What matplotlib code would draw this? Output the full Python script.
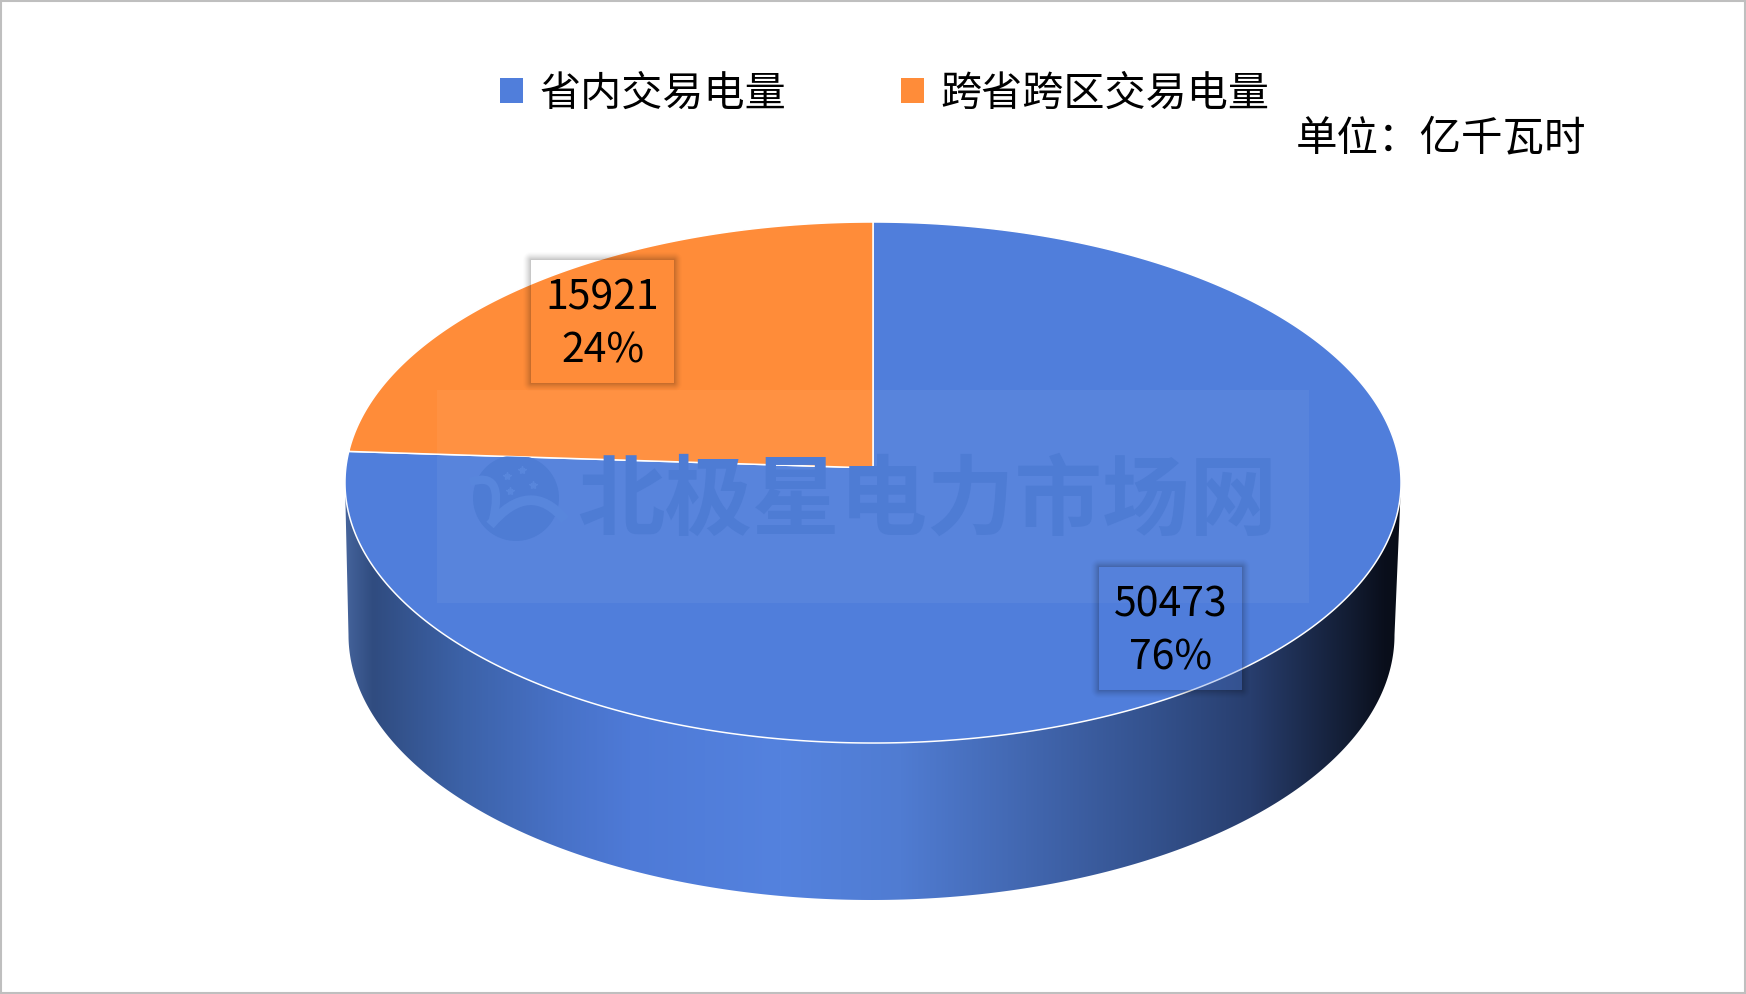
import matplotlib
matplotlib.use("Agg")
import matplotlib.pyplot as plt
import numpy as np
from matplotlib.patches import Patch, Polygon, Rectangle, Circle, PathPatch
from matplotlib.path import Path

plt.rcParams['font.family'] = ['Noto Sans CJK SC', 'DejaVu Sans']

categories = ["省内交易电量", "跨省跨区交易电量"]
values = [50473, 15921]
unit_label = "单位：亿千瓦时"
watermark = "北极星电力市场网"

W, H = 1746, 994
BLUE = '#507EDB'
ORANGE = '#FF8C39'
colors = [BLUE, ORANGE]

# label boxes, x0 x1 y0 y1 in pixels
boxes = [(1099, 1242, 567, 690), (531, 674, 260, 383)]
box_fills = [(0.31, 0.49, 0.86, 0.3), 'none']

# shape of the pie in pixels
CX, APEX_Y = 873, 468
A, B, K = 527.2, 259.7, 0.0557
BOT_CX, BOT_CY, BOT_A, BOT_B = 871.5, 635, 523, 265

fig = plt.figure(figsize=(W / 100, H / 100), dpi=100)
ax = fig.add_axes([0, 0, 1, 1])


# angle in degrees clockwise from 12 o'clock, with the camera perspective
def disk_xy(deg):
    t = np.radians(deg)
    u, v = np.sin(t), np.cos(t)
    d = 1 + K * v
    return CX + A * u / d, APEX_Y - B * v / d


# side of the cylinder, gradient clipped to the outline
grad_x = [345, 350, 373, 463, 563, 630, 780, 900, 1150, 1250, 1350, 1383, 1402]
grad_r = [70, 65, 48, 60, 72, 78, 84, 80, 52, 40, 18, 10, 8]
grad_g = [100, 95, 76, 98, 114, 122, 130, 124, 82, 62, 28, 15, 12]
grad_b = [155, 150, 128, 168, 200, 215, 222, 210, 142, 110, 50, 28, 22]
xs = np.arange(340, 1406)
grad = np.stack([np.interp(xs, grad_x, c) for c in (grad_r, grad_g, grad_b)], axis=-1) / 255
im = ax.imshow(grad[np.newaxis, :, :], extent=(340, 1406, 905, 470), aspect='auto', zorder=1)

t = np.linspace(np.pi, 0, 400)
side = [(345, 483)] + list(zip(BOT_CX + BOT_A * np.cos(t), BOT_CY + BOT_B * np.sin(t))) + [(1401, 483)]
side_patch = Polygon(side, closed=True, transform=ax.transData, fc='none', ec='none')
ax.add_patch(side_patch)
im.set_clip_path(side_patch)

# top face, first slice starts at 12 o'clock and runs clockwise
start = 0
wedges = []
for val, col in zip(values, colors):
    sweep = 360 * val / sum(values)
    arc = np.linspace(start, start + sweep, 500)
    px, py = disk_xy(arc)
    pts = [(CX, APEX_Y)] + list(zip(px, py))
    wedges.append(ax.add_patch(Polygon(pts, closed=True, fc=col, ec='white', lw=1.1, zorder=2, joinstyle='miter')))
    start += sweep

# watermark layer, the orange slice hides its top edge
MARK = '#4E7CD4'
LIGHT = '#5886DC'
ax.add_patch(Rectangle((437, 390), 872, 213, fc='white', ec='none', alpha=0.046, zorder=3))
wm_parts = [ax.text(927, 503, watermark, color=MARK, fontsize=63, fontweight='black', ha='center', va='center', zorder=4)]
wm_parts.append(ax.add_patch(Circle((516, 498), 43, fc=MARK, ec='none', zorder=4)))
swoosh = Path([(490, 525), (530, 478), (565, 520)], [Path.MOVETO, Path.CURVE3, Path.CURVE3])
wm_parts.append(ax.add_patch(PathPatch(swoosh, fc='none', ec=LIGHT, lw=7, zorder=4)))
swoosh2 = Path([(470, 482), (505, 470), (493, 520)], [Path.MOVETO, Path.CURVE3, Path.CURVE3])
wm_parts.append(ax.add_patch(PathPatch(swoosh2, fc='none', ec=LIGHT, lw=6, zorder=4)))
wm_parts += ax.plot([522, 507, 533, 510], [470, 476, 485, 491], ls='none', marker='*', color=LIGHT, zorder=4, ms=6)
for part in wm_parts:
    part.set_clip_path(wedges[0])

# data labels with a soft shadow
for val, box, fill in zip(values, boxes, box_fills):
    x0, x1, y0, y1 = box
    ax.add_patch(Rectangle((x0, y0), x1 - x0, y1 - y0, fc=fill, ec='none', zorder=5))
    gx, gy = np.meshgrid(np.arange(x0 - 10, x1 + 10) + 0.5, np.arange(y0 - 10, y1 + 10) + 0.5)
    dist = np.hypot(np.maximum(np.maximum(x0 - gx, gx - x1), 0), np.maximum(np.maximum(y0 - gy, gy - y1), 0))
    shade = np.zeros(gx.shape + (4,))
    shade[..., 3] = np.where(dist > 0, 0.24 * np.clip(1 - dist / 9, 0, 1) ** 1.6, 0)
    ax.imshow(shade, extent=(x0 - 10, x1 + 10, y1 + 10, y0 - 10), aspect='auto', interpolation='nearest', zorder=5)
    pct = round(100 * val / sum(values))
    ax.text((x0 + x1) / 2, (y0 + y1) / 2 + 3, f"{val}\n{pct}%", fontsize=29.5, color='black',
            ha='center', va='center', linespacing=1.38, zorder=6)

ax.text(1441, 139, unit_label, fontsize=29.9, color='black', ha='center', va='center', zorder=6)

handles = [Patch(fc=c, ec='none', label=n) for c, n in zip(colors, categories)]
ax.legend(handles=handles, ncol=2, loc='center left', bbox_to_anchor=(500, 94), bbox_transform=ax.transData,
          frameon=False, fontsize=29.6, borderpad=0, borderaxespad=0, handlelength=0.56, handleheight=0.56,
          handletextpad=0.39, columnspacing=2.8, labelcolor='black')

# outer frame of the picture
ax.add_patch(Rectangle((1, 1), W - 2, H - 2, fc='none', ec='#BFBFBF', lw=1.5, zorder=7))

ax.set_xlim(0, W)
ax.set_ylim(H, 0)
ax.axis('off')
fig.savefig('out.png', dpi=100)
